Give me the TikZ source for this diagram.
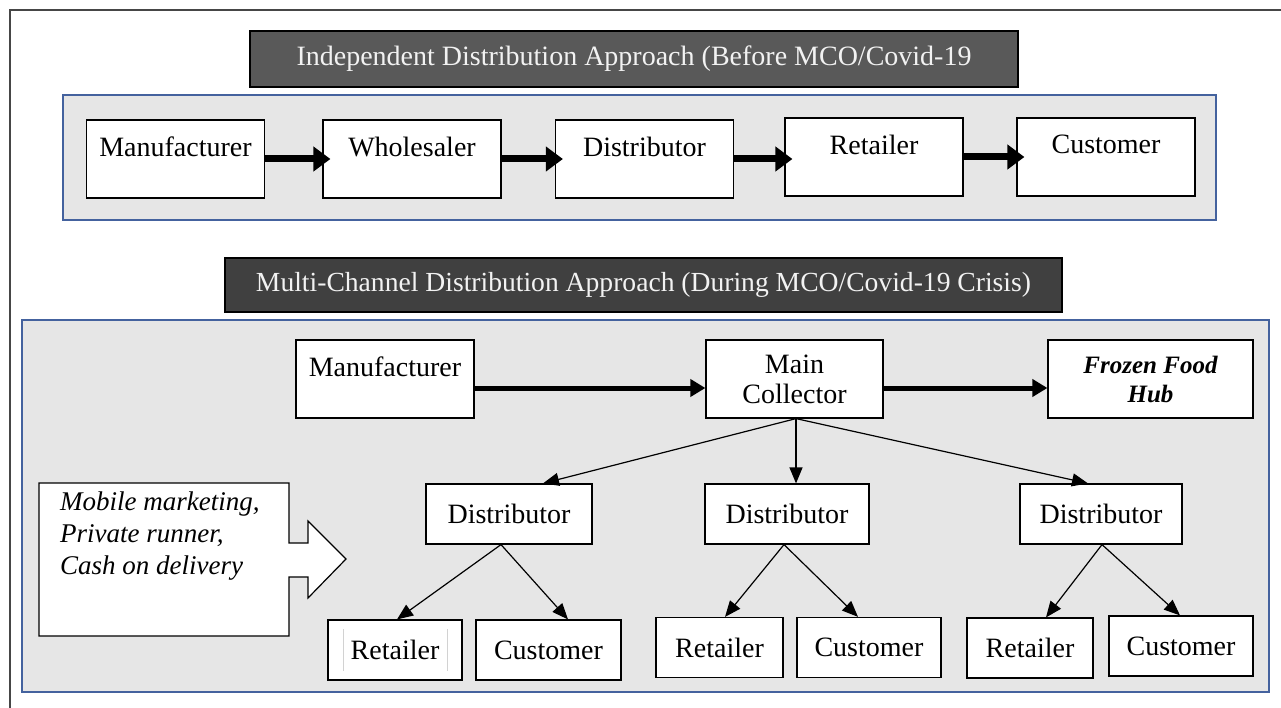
\documentclass[tikz,border=0pt]{standalone}
\usepackage{fontspec}
\setmainfont{Liberation Serif}
\usetikzlibrary{arrows.meta,positioning}
\definecolor{panelblue}{RGB}{68,98,158}
\definecolor{panelgray}{RGB}{230,230,230}
\definecolor{titledark}{RGB}{64,64,64}
\definecolor{titlemid}{RGB}{89,89,89}
\definecolor{titletext}{RGB}{242,242,242}
\definecolor{framegray}{RGB}{70,70,70}

\begin{document}
\begin{tikzpicture}[x=1pt, y=-1pt,
    font=\fontsize{28}{30}\selectfont,
    flowbox/.style={draw, fill=white, line width=1.2pt, inner sep=0pt, minimum height=78pt},
    toptext/.style={anchor=north, inner sep=0pt, yshift=-17pt},
    panel/.style={draw=panelblue, line width=2.5pt, fill=panelgray},
    titlebar/.style={draw=black, line width=1.2pt, text=titletext, inner sep=0pt},
    fatarrow/.style={line width=7pt, shorten >=-8pt, -{Triangle[length=17pt,width=24pt]}},
    midarrow/.style={line width=5pt, -{Triangle[length=15pt,width=17pt]}},
    thinarrow/.style={line width=1.2pt, -{Triangle[length=16pt,width=13pt]}},
  ]
    \useasboundingbox (0,0) rectangle (1281,708);
    \draw[framegray, line width=1.5pt] (10,720) -- (10,10) -- (1295,10);

    % ---------------- Before ----------------
    \node[titlebar, fill=titlemid, minimum width=768pt, minimum height=56pt,
          font=\fontsize{28}{30}\selectfont] (titleA) at (634,59)
        {Independent Distribution Approach (Before MCO/Covid-19};
    \draw[panel] (63,95) rectangle (1216,220);
    \foreach \n/\xc/\yc/\txt in {mA/175.5/159/Manufacturer, wA/412/159/Wholesaler,
        dA/644.5/159/Distributor, rA/874/157/Retailer, cA/1106/157/Customer} {
        \node[flowbox, minimum width=178pt, label={[toptext]90:\txt}] (\n) at (\xc,\yc) {};
    }
    \foreach \a/\b in {mA/wA, wA/dA, dA/rA, rA/cA}
        \draw[fatarrow] (\a.east) -- (\a.east -| \b.west);

    % ---------------- During ----------------
    \node[titlebar, fill=titledark, minimum width=837pt, minimum height=54pt,
          font=\fontsize{27.6}{30}\selectfont] (titleB) at (643.5,285)
        {Multi-Channel Distribution Approach (During MCO/Covid-19 Crisis)};
    \draw[panel] (22,320) rectangle (1269,692);

    \node[flowbox, minimum width=178pt, label={[toptext]90:Manufacturer}] (mf) at (385,379) {};
    \node[flowbox, minimum width=177pt, align=center] (mc) at (794.5,379) {Main\\Collector};
    \node[flowbox, minimum width=205pt, align=center,
          font=\fontsize{25}{29}\selectfont\bfseries\itshape] (hub) at (1150.5,379) {Frozen Food\\Hub};
    \draw[midarrow] ([yshift=-9pt]mf.east) -- ([yshift=-9pt]mc.west);
    \draw[midarrow] ([yshift=-9pt]mc.east) -- ([yshift=-9pt]hub.west);

    % distributors
    \foreach \n/\xc/\w in {dB1/509/166, dB2/787/164, dB3/1101/162}
        \node[flowbox, minimum height=60pt, minimum width=\w*1pt] (\n) at (\xc,514) {Distributor};
    \draw[thinarrow] ([xshift=1.5pt]mc.south) -- ([xshift=34pt]dB1.north);
    \draw[thinarrow] ([xshift=1.5pt]mc.south) -- ([xshift=9pt]dB2.north);
    \draw[thinarrow] ([xshift=1.5pt]mc.south) -- ([xshift=-13pt]dB3.north);

    % retailers and customers
    \foreach \n/\xc/\yc/\w/\txt in {rB1/395/650/134/Retailer, cB1/548.5/650/145/Customer,
        rB2/719.5/647.5/127/Retailer, cB2/869/647.5/144/Customer,
        rB3/1030/648/126/Retailer, cB3/1181/646/144/Customer}
        \node[flowbox, minimum height=60pt, minimum width=\w*1pt] (\n) at (\xc,\yc) {\txt};
    \draw[gray!35, line width=0.8pt] ([xshift=16pt,yshift=10pt]rB1.south west) -- ([xshift=16pt,yshift=-10pt]rB1.north west);
    \draw[gray!35, line width=0.8pt] ([xshift=-15pt,yshift=10pt]rB1.south east) -- ([xshift=-15pt,yshift=-10pt]rB1.north east);

    \draw[thinarrow] ([xshift=-8pt]dB1.south) -- ([xshift=2pt]rB1.north);
    \draw[thinarrow] ([xshift=-8pt]dB1.south) -- ([xshift=19.5pt]cB1.north);
    \draw[thinarrow] ([xshift=-3pt]dB2.south) -- ([xshift=5.5pt]rB2.north);
    \draw[thinarrow] ([xshift=-3pt]dB2.south) -- ([xshift=-11pt]cB2.north);
    \draw[thinarrow] ([xshift=1pt]dB3.south) -- ([xshift=16pt]rB3.north);
    \draw[thinarrow] ([xshift=1pt]dB3.south) -- ([xshift=-1pt]cB3.north);

    % ---------------- Channel callout ----------------
    \draw[fill=white, line width=1.2pt] (39,483) -- (289,483) -- (289,543) -- (308,543)
        -- (308,521) -- (346,559) -- (308,598) -- (308,577) -- (289,577) -- (289,636)
        -- (39,636) -- cycle;
    \node[anchor=north west, align=left, inner sep=0pt,
          font=\fontsize{27}{32}\selectfont\itshape] (channels) at (60,492)
        {Mobile marketing,\\Private runner,\\Cash on delivery};

\end{tikzpicture}
\end{document}
